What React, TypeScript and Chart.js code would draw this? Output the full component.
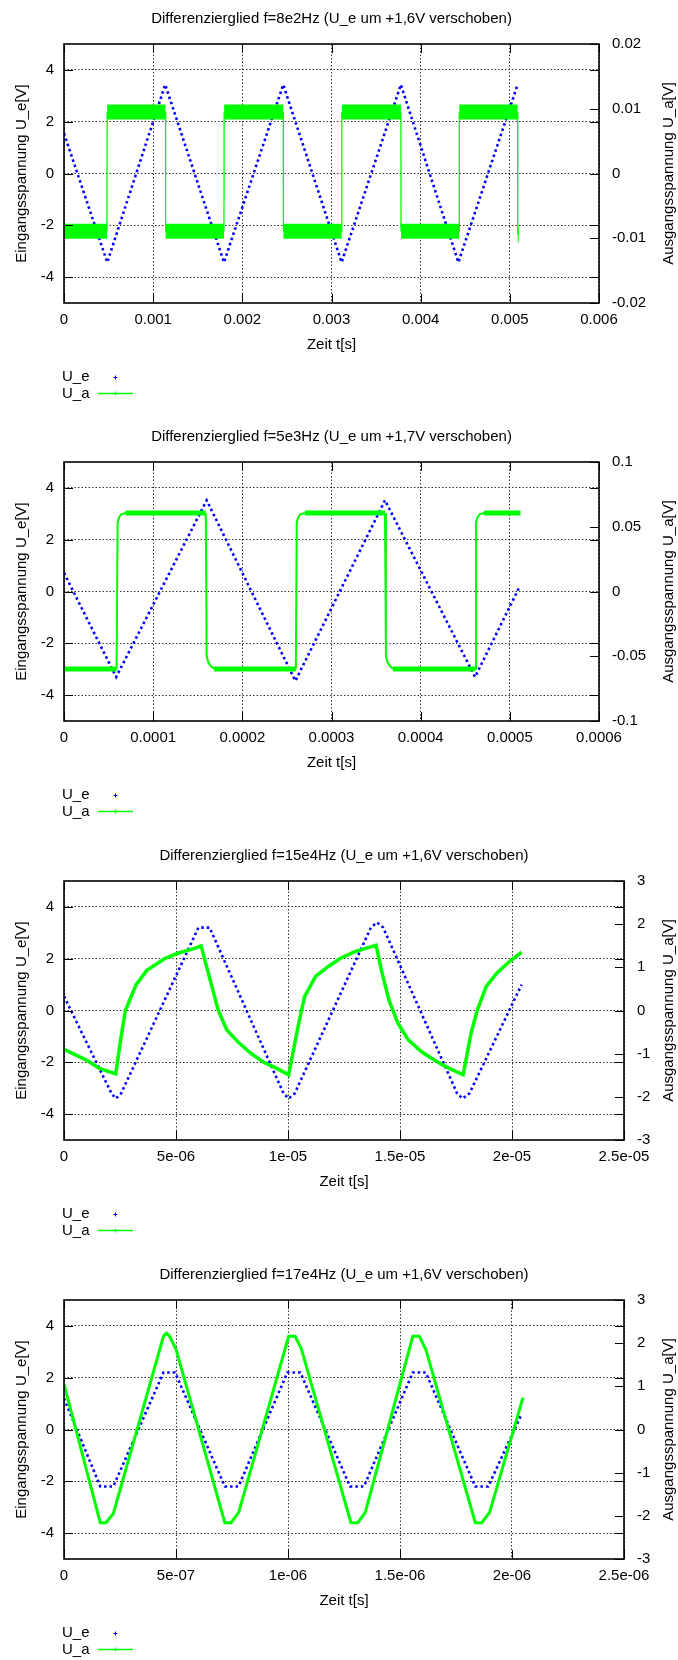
import React, { useEffect, useRef } from "react";
import { Chart, registerables } from "chart.js";

Chart.register(...registerables);

const FONT = "'Liberation Sans', Arial, Helvetica, sans-serif";
const BLUE = "#0000ff";
const GREEN = "#00ff00";
const GRID = "rgba(0,0,0,0.8)";

// shared axis texts / ticks
const leftTicks = [-4, -2, 0, 2, 4];
const leftTickLabels = ["-4", "-2", "0", "2", "4"];
const legendLabels = ["U_e", "U_a"];
const xAxisTitle = "Zeit t[s]";
const leftAxisTitle = "Eingangsspannung U_e[V]";
const rightAxisTitle = "Ausgangsspannung U_a[V]";

// ---------- Panel 1: f=8e2Hz ----------
const p1Title = "Differenzierglied f=8e2Hz (U_e um +1,6V verschoben)";
const p1XTicks = [0, 0.001, 0.002, 0.003, 0.004, 0.005, 0.006];
const p1XLabels = ["0", "0.001", "0.002", "0.003", "0.004", "0.005", "0.006"];
const p1Y2Ticks = [-0.02, -0.01, 0, 0.01, 0.02];
const p1Y2Labels = ["-0.02", "-0.01", "0", "0.01", "0.02"];
const p1UeX = [0, 0.000485, 0.001135, 0.001794, 0.002459, 0.003113, 0.003778, 0.004423, 0.005087];
const p1UeY = [1.55, -3.43, 3.43, -3.43, 3.43, -3.43, 3.43, -3.43, 3.43];
const p1UaX = [0, 0.000482, 0.000484, 0.001138, 0.00114, 0.001794, 0.001796, 0.002459, 0.002461, 0.003114, 0.003116, 0.003778, 0.00378, 0.004431, 0.004433, 0.005087, 0.005089, 0.0051];
const p1UaY = [-0.0089, -0.0089, 0.0095, 0.0095, -0.0089, -0.0089, 0.0095, 0.0095, -0.0089, -0.0089, 0.0095, 0.0095, -0.0089, -0.0089, 0.0095, 0.0095, -0.0095, -0.0095];

// ---------- Panel 2: f=5e3Hz ----------
const p2Title = "Differenzierglied f=5e3Hz (U_e um +1,7V verschoben)";
const p2XTicks = [0, 0.0001, 0.0002, 0.0003, 0.0004, 0.0005, 0.0006];
const p2XLabels = ["0", "0.0001", "0.0002", "0.0003", "0.0004", "0.0005", "0.0006"];
const p2Y2Ticks = [-0.1, -0.05, 0, 0.05, 0.1];
const p2Y2Labels = ["-0.1", "-0.05", "0", "0.05", "0.1"];
const p2UeX = [0, 0.0000585, 0.00016, 0.0002595, 0.00036, 0.000461, 0.00051];
const p2UeY = [0.72, -3.3, 3.52, -3.45, 3.52, -3.3, 0.12];
const p2UaX = [0, 0.000059, 0.0000601, 0.0000616, 0.000064, 0.0000689, 0.000159, 0.00016, 0.000162, 0.000165, 0.0001683, 0.00026, 0.000261, 0.0002625, 0.000265, 0.00027, 0.00036, 0.000361, 0.000363, 0.000366, 0.000369, 0.000461, 0.000462, 0.0004635, 0.000466, 0.000471, 0.000512];
const p2UaY = [-0.0598, -0.0598, 0.053, 0.057, 0.0596, 0.0606, 0.0606, -0.05, -0.055, -0.0578, -0.0598, -0.0598, 0.053, 0.057, 0.0596, 0.0606, 0.0606, -0.05, -0.055, -0.0578, -0.0598, -0.0598, 0.053, 0.057, 0.0596, 0.0606, 0.0606];

// ---------- Panel 3: f=15e4Hz ----------
const p3Title = "Differenzierglied f=15e4Hz (U_e um +1,6V verschoben)";
const p3XTicks = [0, 5e-6, 1e-5, 1.5e-5, 2e-5, 2.5e-5];
const p3XLabels = ["0", "5e-06", "1e-05", "1.5e-05", "2e-05", "2.5e-05"];
const p3Y2Ticks = [-3, -2, -1, 0, 1, 2, 3];
const p3Y2Labels = ["-3", "-2", "-1", "0", "1", "2", "3"];
const p3UeX = [0, 2.12e-6, 2.31e-6, 2.55e-6, 6.0e-6, 6.5e-6, 9.8e-6, 10.03e-6, 10.3e-6, 13.7e-6, 13.97e-6, 14.25e-6, 17.55e-6, 17.8e-6, 18.1e-6, 20.43e-6];
const p3UeY = [0.55, -3.2, -3.4, -3.2, 3.2, 3.2, -3.2, -3.4, -3.2, 3.2, 3.4, 3.2, -3.2, -3.4, -3.2, 1.0];
const p3UaX = [0, 1.0e-6, 1.58e-6, 2.31e-6, 2.55e-6, 2.74e-6, 3.22e-6, 3.7e-6, 4.48e-6, 5.05e-6, 5.83e-6, 6.12e-6,
  6.6e-6, 6.89e-6, 7.27e-6, 7.75e-6, 8.33e-6, 8.91e-6, 9.5e-6, 10.03e-6,
  10.45e-6, 10.74e-6, 11.23e-6, 11.8e-6, 12.38e-6, 12.96e-6, 13.54e-6, 13.93e-6,
  14.2e-6, 14.5e-6, 14.9e-6, 15.37e-6, 15.95e-6, 16.63e-6, 17.2e-6, 17.82e-6,
  18.17e-6, 18.46e-6, 18.85e-6, 19.33e-6, 19.9e-6, 20.43e-6];
const p3UaY = [-0.9, -1.15, -1.34, -1.47, -0.6, 0, 0.6, 0.93, 1.2, 1.32, 1.44, 1.5,
  0.56, 0, -0.45, -0.72, -0.99, -1.2, -1.34, -1.49,
  -0.37, 0.32, 0.79, 1.02, 1.22, 1.36, 1.45, 1.51,
  0.87, 0.25, -0.29, -0.68, -0.95, -1.18, -1.34, -1.49,
  -0.53, 0.02, 0.56, 0.87, 1.14, 1.35];

// ---------- Panel 4: f=17e4Hz ----------
const p4Title = "Differenzierglied f=17e4Hz (U_e um +1,6V verschoben)";
const p4XTicks = [0, 5e-7, 1e-6, 1.5e-6, 2e-6, 2.5e-6];
const p4XLabels = ["0", "5e-07", "1e-06", "1.5e-06", "2e-06", "2.5e-06"];
const p4Y2Ticks = [-3, -2, -1, 0, 1, 2, 3];
const p4Y2Labels = ["-3", "-2", "-1", "0", "1", "2", "3"];
const p4UeX = [0, 0.162e-6, 0.22e-6, 0.444e-6, 0.496e-6, 0.718e-6, 0.779e-6, 0.997e-6, 1.055e-6, 1.277e-6, 1.339e-6, 1.557e-6, 1.615e-6, 1.836e-6, 1.894e-6, 2.043e-6];
const p4UeY = [1.2, -2.2, -2.2, 2.2, 2.2, -2.2, -2.2, 2.2, 2.2, -2.2, -2.2, 2.2, 2.2, -2.2, -2.2, 0.6];
const p4UaX = [0, 0.162e-6, 0.187e-6, 0.22e-6, 0.444e-6, 0.457e-6, 0.471e-6, 0.5e-6, 0.718e-6, 0.746e-6, 0.78e-6, 1.003e-6, 1.032e-6, 1.06e-6, 1.281e-6, 1.312e-6, 1.345e-6, 1.557e-6, 1.586e-6, 1.615e-6, 1.836e-6, 1.865e-6, 1.9e-6, 2.049e-6];
const p4UaY = [1.05, -2.16, -2.16, -1.95, 2.16, 2.23, 2.16, 1.86, -2.16, -2.16, -1.92, 2.16, 2.16, 1.86, -2.16, -2.16, -1.92, 2.16, 2.16, 1.86, -2.16, -2.16, -1.92, 0.74];

type PanelCfg = {
  title: string;
  xMax: number;
  xTicks: number[];
  xLabels: string[];
  y2Min: number;
  y2Max: number;
  y2Ticks: number[];
  y2Labels: string[];
  ueX: number[];
  ueY: number[];
  uaX: number[];
  uaY: number[];
  rightWidth: number;
  bandWidth: number;
  lineWidth: number;
};

const panels: PanelCfg[] = [
  { title: p1Title, xMax: 0.006, xTicks: p1XTicks, xLabels: p1XLabels, y2Min: -0.02, y2Max: 0.02, y2Ticks: p1Y2Ticks, y2Labels: p1Y2Labels, ueX: p1UeX, ueY: p1UeY, uaX: p1UaX, uaY: p1UaY, rightWidth: 79, bandWidth: 15, lineWidth: 1.3 },
  { title: p2Title, xMax: 0.0006, xTicks: p2XTicks, xLabels: p2XLabels, y2Min: -0.1, y2Max: 0.1, y2Ticks: p2Y2Ticks, y2Labels: p2Y2Labels, ueX: p2UeX, ueY: p2UeY, uaX: p2UaX, uaY: p2UaY, rightWidth: 79, bandWidth: 5, lineWidth: 2 },
  { title: p3Title, xMax: 2.5e-5, xTicks: p3XTicks, xLabels: p3XLabels, y2Min: -3, y2Max: 3, y2Ticks: p3Y2Ticks, y2Labels: p3Y2Labels, ueX: p3UeX, ueY: p3UeY, uaX: p3UaX, uaY: p3UaY, rightWidth: 54, bandWidth: 3.5, lineWidth: 3.5 },
  { title: p4Title, xMax: 2.5e-6, xTicks: p4XTicks, xLabels: p4XLabels, y2Min: -3, y2Max: 3, y2Ticks: p4Y2Ticks, y2Labels: p4Y2Labels, ueX: p4UeX, ueY: p4UeY, uaX: p4UaX, uaY: p4UaY, rightWidth: 54, bandWidth: 3, lineWidth: 3 },
];

const panelTops = [0, 418, 837, 1256];
const CW = 678;
const CH = 419;

function Panel({ cfg, top }: { cfg: PanelCfg; top: number }) {
  const ref = useRef<HTMLCanvasElement>(null);

  useEffect(() => {
    const canvas = ref.current;
    if (!canvas) return;

    const decor = {
      id: "decor",
      afterDatasetsDraw(chart: any) {
        const { ctx, chartArea: a, scales } = chart;
        ctx.save();
        // inward tick marks
        ctx.strokeStyle = "#000";
        ctx.lineWidth = 1;
        ctx.beginPath();
        for (const v of cfg.xTicks) {
          const px = Math.round(scales.x.getPixelForValue(v)) + 0.5;
          ctx.moveTo(px, a.bottom);
          ctx.lineTo(px, a.bottom - 9);
          ctx.moveTo(px, a.top);
          ctx.lineTo(px, a.top + 9);
        }
        for (const v of leftTicks) {
          const py = Math.round(scales.y.getPixelForValue(v)) + 0.5;
          ctx.moveTo(a.left, py);
          ctx.lineTo(a.left + 9, py);
          ctx.moveTo(a.right, py);
          ctx.lineTo(a.right - 9, py);
        }
        for (const v of cfg.y2Ticks) {
          const py = Math.round(scales.y2.getPixelForValue(v)) + 0.5;
          ctx.moveTo(a.right, py);
          ctx.lineTo(a.right - 9, py);
        }
        ctx.stroke();
        // border box
        ctx.lineWidth = 1.6;
        ctx.strokeRect(a.left, a.top, a.right - a.left, a.bottom - a.top);
        ctx.restore();
      },
      afterDraw(chart: any) {
        const { ctx, chartArea: a } = chart;
        const cx = (a.left + a.right) / 2;
        const cy = (a.top + a.bottom) / 2;
        ctx.save();
        ctx.fillStyle = "#000";
        ctx.font = `15px ${FONT}`;
        ctx.textAlign = "center";
        ctx.textBaseline = "middle";
        ctx.fillText(cfg.title, cx, 19);
        ctx.fillText(xAxisTitle, cx, 345);
        ctx.save();
        ctx.translate(22, cy);
        ctx.rotate(-Math.PI / 2);
        ctx.fillText(leftAxisTitle, 0, 0);
        ctx.restore();
        ctx.save();
        ctx.translate(669, cy);
        ctx.rotate(-Math.PI / 2);
        ctx.fillText(rightAxisTitle, 0, 0);
        ctx.restore();
        // legend
        ctx.textAlign = "left";
        ctx.fillText(legendLabels[0], 62, 377);
        ctx.fillText(legendLabels[1], 62, 393.5);
        ctx.strokeStyle = BLUE;
        ctx.lineWidth = 1;
        ctx.beginPath();
        ctx.moveTo(113.5, 377.5);
        ctx.lineTo(117.5, 377.5);
        ctx.moveTo(115.5, 375.5);
        ctx.lineTo(115.5, 379.5);
        ctx.stroke();
        ctx.strokeStyle = GREEN;
        ctx.lineWidth = 1.3;
        ctx.beginPath();
        ctx.moveTo(98, 393.5);
        ctx.lineTo(133, 393.5);
        ctx.moveTo(115.5, 391.5);
        ctx.lineTo(115.5, 395.5);
        ctx.stroke();
        ctx.restore();
      },
    };

    const tickFont = { family: FONT, size: 15 };

    const chart = new Chart(canvas, {
      type: "scatter",
      data: {
        datasets: [
          {
            label: legendLabels[1],
            data: cfg.uaX.map((x, i) => ({ x, y: cfg.uaY[i] })),
            yAxisID: "y2",
            showLine: true,
            borderColor: GREEN,
            backgroundColor: GREEN,
            borderWidth: cfg.lineWidth,
            borderCapStyle: "butt",
            borderJoinStyle: "miter",
            pointRadius: 0,
            order: 0,
            segment: {
              borderWidth: (sc: any) =>
                Math.abs(sc.p0.parsed.y - sc.p1.parsed.y) < 1e-12 ? cfg.bandWidth : cfg.lineWidth,
            },
          } as any,
          {
            label: legendLabels[0],
            data: cfg.ueX.map((x, i) => ({ x, y: cfg.ueY[i] })),
            yAxisID: "y",
            showLine: true,
            borderColor: BLUE,
            backgroundColor: BLUE,
            borderWidth: 2.6,
            borderDash: [2.5, 3],
            borderCapStyle: "butt",
            pointRadius: 0,
            order: 1,
          } as any,
        ],
      },
      options: {
        responsive: false,
        animation: false,
        devicePixelRatio: 1,
        events: [],
        layout: { padding: { top: 44, left: 0, right: 0, bottom: CH - 303 - 60 } },
        plugins: {
          legend: { display: false },
          tooltip: { enabled: false },
          title: { display: false },
        },
        scales: {
          x: {
            type: "linear",
            min: 0,
            max: cfg.xMax,
            afterBuildTicks: (s: any) => {
              s.ticks = cfg.xTicks.map((v) => ({ value: v }));
            },
            afterFit: (s: any) => {
              s.height = 60;
            },
            ticks: {
              autoSkip: false,
              maxRotation: 0,
              padding: 8,
              color: "#000",
              font: tickFont,
              callback: (_v: any, i: number) => cfg.xLabels[i],
            },
            grid: { color: GRID, lineWidth: 1, drawTicks: false },
            border: { display: false, dash: [1.5, 2] },
          },
          y: {
            type: "linear",
            position: "left",
            min: -5,
            max: 5,
            afterBuildTicks: (s: any) => {
              s.ticks = leftTicks.map((v) => ({ value: v }));
            },
            afterFit: (s: any) => {
              s.width = 64;
            },
            ticks: {
              autoSkip: false,
              padding: 10,
              color: "#000",
              font: tickFont,
              callback: (_v: any, i: number) => leftTickLabels[i],
            },
            grid: { color: GRID, lineWidth: 1, drawTicks: false },
            border: { display: false, dash: [1.5, 2] },
          },
          y2: {
            type: "linear",
            position: "right",
            min: cfg.y2Min,
            max: cfg.y2Max,
            afterBuildTicks: (s: any) => {
              s.ticks = cfg.y2Ticks.map((v) => ({ value: v }));
            },
            afterFit: (s: any) => {
              s.width = cfg.rightWidth;
            },
            ticks: {
              autoSkip: false,
              padding: 13,
              color: "#000",
              font: tickFont,
              callback: (_v: any, i: number) => cfg.y2Labels[i],
            },
            grid: { display: false, drawTicks: false, drawOnChartArea: false },
            border: { display: false },
          },
        },
      } as any,
      plugins: [decor],
    });

    return () => chart.destroy();
  }, [cfg]);

  return (
    <canvas
      ref={ref}
      width={CW}
      height={CH}
      style={{ position: "absolute", left: 0, top, width: CW, height: CH, display: "block" }}
    />
  );
}

export default function App() {
  return (
    <div
      style={{
        position: "absolute",
        left: 0,
        top: 0,
        width: CW,
        height: 1660,
        overflow: "hidden",
        background: "#fff",
      }}
    >
      {panels.map((p, i) => (
        <Panel key={i} cfg={p} top={panelTops[i]} />
      ))}
    </div>
  );
}
